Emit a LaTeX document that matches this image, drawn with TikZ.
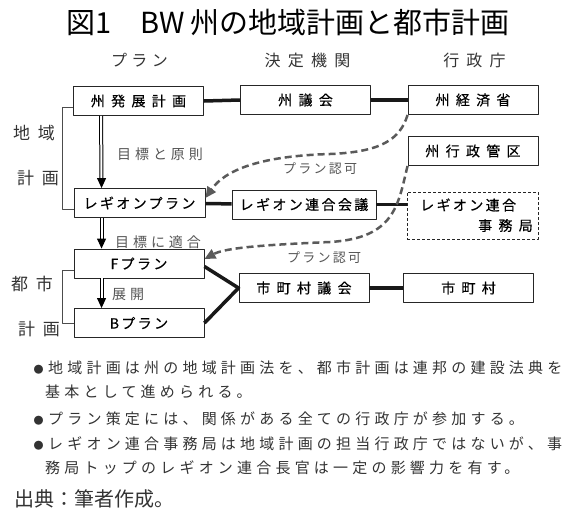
\documentclass[tikz,border=0pt]{standalone}
\usepackage{fontspec}
\usetikzlibrary{arrows.meta}
\newfontfamily\jp{Noto Sans CJK JP}
\newfontfamily\jpwide[LetterSpace=45]{Noto Sans CJK JP}
\newfontfamily\jpmid[LetterSpace=28]{Noto Sans CJK JP}
\newfontfamily\jpnarrow[LetterSpace=17]{Noto Sans CJK JP}
\newfontfamily\jpboxwide[LetterSpace=45,FakeBold=0.4]{Noto Sans CJK JP}
\newfontfamily\jpboxnarrow[LetterSpace=17,FakeBold=0.4]{Noto Sans CJK JP}
\definecolor{txtgray}{HTML}{333333}
\definecolor{lblgray}{HTML}{555555}
\definecolor{arrgray}{HTML}{5A5A5A}
\newcommand\bul{{\jp\fontsize{10}{10}\selectfont ●}\hspace{4.5pt}}
\begin{document}
\begin{tikzpicture}[x=1pt,y=-1pt,line join=round,
	box/.style={draw=black!85,line width=.9pt,minimum width=130,minimum height=29,inner sep=0,font=\fontsize{14}{14}\selectfont\jpboxwide},
	kana/.style={box,font=\fontsize{14}{14}\selectfont\jpboxnarrow},
	jtxt/.style={inner sep=0,font=\fontsize{14}{14}\selectfont\jpboxnarrow},
	head/.style={inner sep=0,text=txtgray,font=\fontsize{16}{16}\selectfont\jpwide},
	side/.style={inner sep=0,anchor=west,text=txtgray,font=\fontsize{17}{17}\selectfont\jpwide},
	lbl/.style={inner sep=0,anchor=west,text=lblgray,font=\fontsize{14}{14}\selectfont\jpmid},
	okay/.style={inner sep=0,anchor=west,text=lblgray,font=\fontsize{13}{13}\selectfont\jpnarrow},
	note/.style={inner sep=0,anchor=west,text=txtgray,font=\fontsize{15}{15}\selectfont\jpmid},
	link/.style={line width=3.5pt,black!90},
	dbl/.style={double,double distance=2pt,line width=1pt,shorten >=9pt},
	dbltip/.style={-{Triangle[length=10pt,width=9pt]},line width=1pt},
	appr/.style={arrgray,line width=2.5pt,dash pattern=on 7pt off 4pt,-{Triangle[length=11pt,width=10pt]}},
	brk/.style={black!70,line width=.7pt}]
\useasboundingbox (0,0) rectangle (570,512);
	\node[font=\fontsize{29}{29}\selectfont\jp] (title) at (288,22) {図1　BW 州の地域計画と都市計画};
% column heads
	\node[head,font=\fontsize{16}{16}\selectfont\jpmid] (hplan) at (139.5,60) {プラン};
	\node[head] (hdecide) at (307.5,60) {決定機関};
	\node[head] (hadmin) at (474.5,60) {行政庁};
% boxes
	\node[box] (ph) at (138.5,101) {州発展計画};
	\node[box] (gikai) at (305.5,100) {州議会};
	\node[box] (keizai) at (473,100) {州経済省};
	\node[box] (kanku) at (473,151) {州行政管区};
	\node[kana,minimum width=131] (rplan) at (139.5,203) {レギオンプラン};
	\node[kana,minimum width=144] (rengo) at (304,204.5) {レギオン連合会議};
	\node[box,dash pattern=on 3pt off 2pt,line width=.8pt,minimum width=131,minimum height=47] (jimu) at (472.5,215.5) {};
	\node[jtxt,anchor=west] (jimu1) at (420,205) {レギオン連合};
	\node[jtxt,anchor=east,font=\fontsize{14}{14}\selectfont\jpboxwide] (jimu2) at (533,225.5) {事務局};
	\node[kana] (fplan) at (139,263.5) {Fプラン};
	\node[kana] (bplan) at (139,323) {Bプラン};
	\node[box] (mgikai) at (304,288) {市町村議会};
	\node[box] (mura) at (468.5,288) {市町村};
% side labels
	\node[side] (s1) at (13,133) {地域};
	\node[side] (s2) at (17,178) {計画};
	\node[side] (s3) at (11,284) {都市};
	\node[side] (s4) at (18,329) {計画};
	\draw[brk] ([yshift=-6pt]ph.west) -- ++(-11,0) |- ([yshift=-6pt]rplan.west);
	\draw[brk] ([yshift=-6.5pt]fplan.west) -- ++(-11,0) |- (bplan.west);
% links
	\draw[link] (ph.east) -- (gikai.west);
	\draw[link] (gikai) -- (keizai);
	\draw[link] (rplan) -- (rengo);
	\draw[link] (rengo.east) -- (rengo.east -| jimu.west);
	\draw[link] ([yshift=-3pt]fplan.east) -- (mgikai.west) -- (bplan.east);
	\draw[link] (mgikai) -- (mura);
% plan flow
	\draw[dbl] ([xshift=28pt]ph.south west) -- ([xshift=28pt]rplan.north west);
	\draw[dbltip] ([xshift=28pt,yshift=10pt]rplan.north west) -- ([xshift=28pt]rplan.north west);
	\draw[dbl] ([xshift=28pt]rplan.south west) -- ([xshift=28pt]fplan.north west);
	\draw[dbltip] ([xshift=28pt,yshift=10pt]fplan.north west) -- ([xshift=28pt]fplan.north west);
	\draw[dbl] ([xshift=28pt]fplan.south west) -- ([xshift=28pt]bplan.north west);
	\draw[dbltip] ([xshift=28pt,yshift=10pt]bplan.north west) -- ([xshift=28pt]bplan.north west);
	\node[lbl] (l1) at (117,154.5) {目標と原則};
	\node[lbl] (l2) at (115,242) {目標に適合};
	\node[lbl] (l3) at (112,294) {展開};
% approval
	\draw[appr] (keizai.south west) .. controls (400,140) and (380,152) .. (330,154) .. controls (260,156) and (225,170) .. ([yshift=5pt]rplan.east);
	\draw[appr] (kanku.south west) .. controls (398,205) and (395,238) .. (330,242) .. controls (260,245) and (225,248) .. ([yshift=4.5pt]fplan.east);
	\node[okay] (ok1) at (283,168.5) {プラン認可};
	\node[okay] (ok2) at (287,257.5) {プラン認可};
% notes
	\node[note] (n1) at (33.5,368) {\bul 地域計画は州の地域計画法を、都市計画は連邦の建設法典を};
	\node[note] (n2) at (45,392) {基本として進められる。};
	\node[note] (n3) at (33.5,419) {\bul プラン策定には、関係がある全ての行政庁が参加する。};
	\node[note] (n4) at (33.5,444) {\bul レギオン連合事務局は地域計画の担当行政庁ではないが、事};
	\node[note] (n5) at (45,468) {務局トップのレギオン連合長官は一定の影響力を有す。};
	\node[inner sep=0,anchor=west,text=txtgray,font=\fontsize{20}{20}\selectfont\jp] (src) at (14,499) {出典：筆者作成。};
\end{tikzpicture}
\end{document}
